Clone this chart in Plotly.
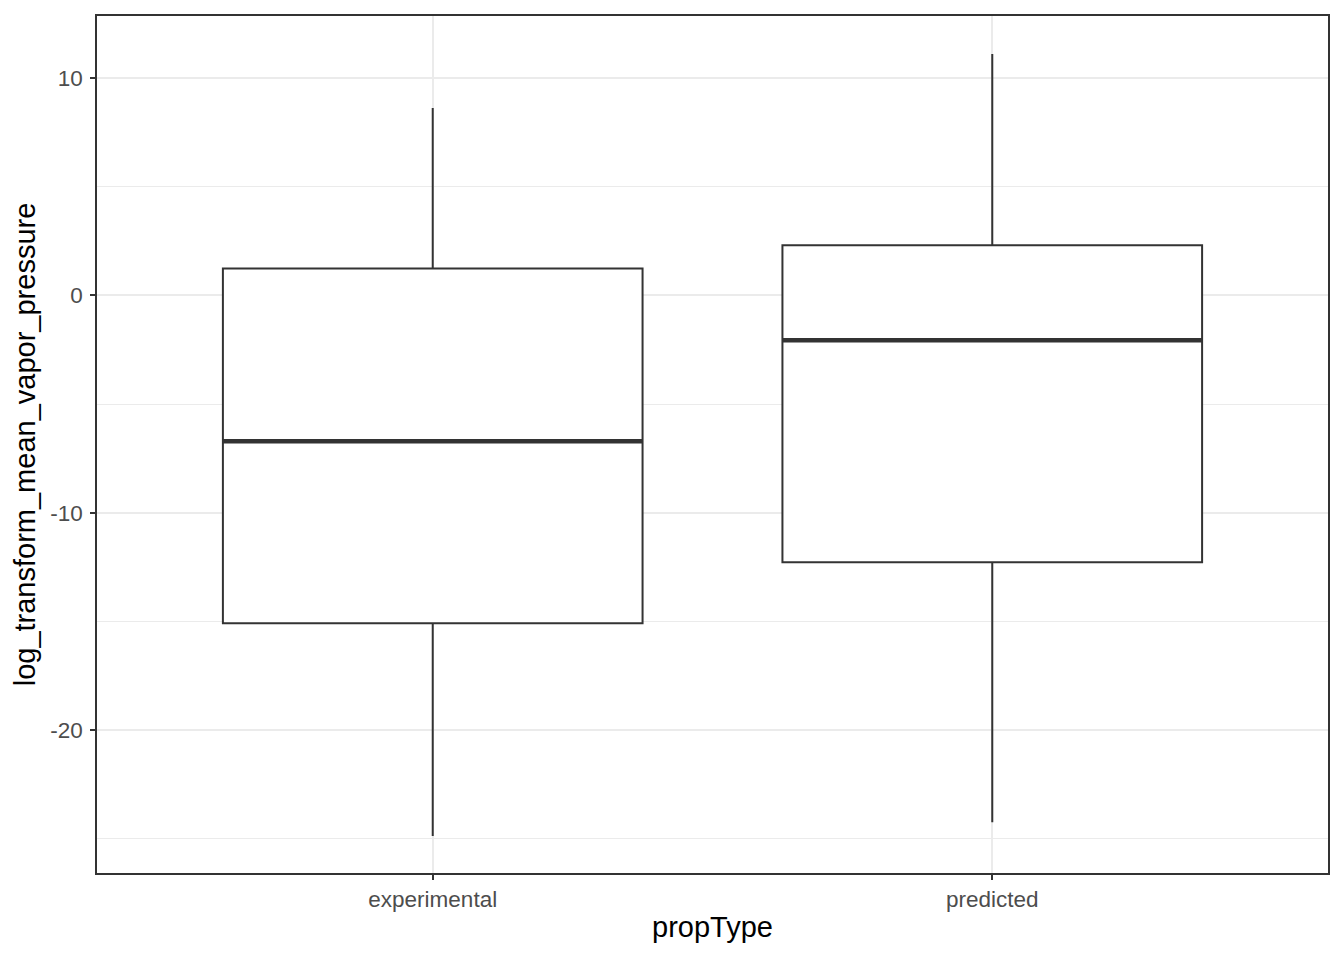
import plotly.graph_objects as go

# box statistics
categories = ['experimental', 'predicted']
positions = [0, 1]
lower_whisker = [-24.87, -24.23]
q1 = [-15.08, -12.28]
median = [-6.71, -2.07]
q3 = [1.24, 2.30]
upper_whisker = [8.62, 11.10]

y_ticks = [-20, -10, 0, 10]
y_ticktext = ['-20', '-10', '0', '10']
y_minor = [-25, -15, -5, 5]

box_width = 0.75
line_col = '#333333'

fig = go.Figure()
fig.add_trace(go.Box(
    x=positions, q1=q1, median=median, q3=q3,
    lowerfence=lower_whisker, upperfence=upper_whisker,
    width=box_width, whiskerwidth=0,
    fillcolor='white', line=dict(color=line_col, width=2),
    boxpoints=False, showlegend=False,
))
# thicker median line like ggplot's fatten
for p, m in zip(positions, median):
    fig.add_trace(go.Scatter(
        x=[p - box_width / 2, p + box_width / 2], y=[m, m],
        mode='lines', line=dict(color=line_col, width=4.5),
        showlegend=False, hoverinfo='skip',
    ))

fig.update_xaxes(
    title_text='propType',
    tickvals=positions, ticktext=categories,
    range=[-0.6, 1.6],
    showgrid=True, gridcolor='#EBEBEB', gridwidth=2,
    zeroline=False,
    ticks='outside', ticklen=5, tickwidth=2, tickcolor=line_col,
    showline=True, linecolor=line_col, linewidth=1.5, mirror=True,
    tickfont=dict(size=22.5, color='#4D4D4D'),
    title_font=dict(size=29, color='black'),
    title_standoff=6,
)
fig.update_yaxes(
    title_text='log_transform_mean_vapor_pressure',
    range=[-26.57, 12.85],
    tickvals=y_ticks, ticktext=y_ticktext,
    showgrid=True, gridcolor='#EBEBEB', gridwidth=2,
    minor=dict(tickvals=y_minor, showgrid=True, gridcolor='#EBEBEB', gridwidth=1),
    zeroline=False,
    ticks='outside', ticklen=5, tickwidth=2, tickcolor=line_col,
    ticklabelstandoff=3,
    showline=True, linecolor=line_col, linewidth=1.5, mirror=True,
    tickfont=dict(size=22.5, color='#4D4D4D'),
    title_font=dict(size=29, color='black'),
    title_standoff=6,
)
# page body has an 8px margin, so offset the figure accordingly
fig.update_layout(
    width=1328, height=944,
    plot_bgcolor='white', paper_bgcolor='white',
    font=dict(family='Liberation Sans, Arial, sans-serif'),
    margin=dict(t=7, b=79, l=89, r=6, pad=0),
)
fig.write_html('out.html')
